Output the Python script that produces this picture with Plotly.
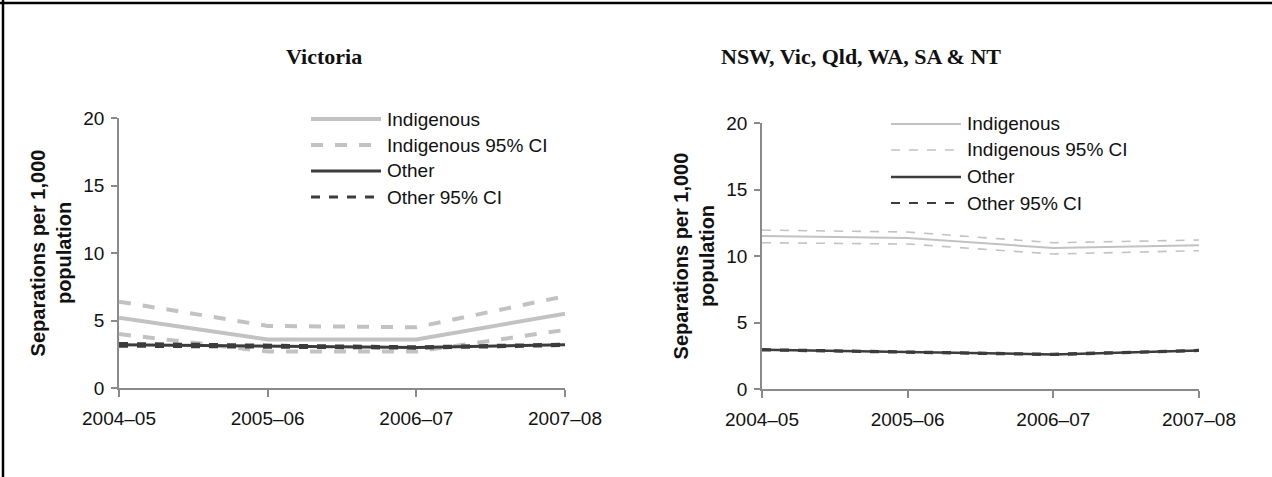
import plotly.graph_objects as go

W, H = 1272, 477

years = ["2004–05", "2005–06", "2006–07", "2007–08"]
xpos = [0, 1, 2, 3]

# Victoria
vic_indig = [5.2, 3.6, 3.6, 5.5]
vic_indig_hi = [6.4, 4.6, 4.5, 6.8]
vic_indig_lo = [4.0, 2.7, 2.7, 4.3]
vic_other = [3.2, 3.1, 3.0, 3.2]
vic_other_hi = [3.3, 3.15, 3.05, 3.25]
vic_other_lo = [3.1, 3.05, 2.95, 3.15]

# NSW, Vic, Qld, WA, SA & NT
all_indig = [11.5, 11.35, 10.6, 10.8]
all_indig_hi = [11.95, 11.8, 11.0, 11.2]
all_indig_lo = [11.0, 10.9, 10.15, 10.4]
all_other = [2.95, 2.8, 2.6, 2.9]
all_other_hi = [3.0, 2.85, 2.65, 2.95]
all_other_lo = [2.9, 2.75, 2.55, 2.85]

legend_names = ["Indigenous", "Indigenous 95% CI", "Other", "Other 95% CI"]

LIGHT = "#c2c2c2"
DARK = "#3c3c3c"
AXIS = "#8a8a8a"
SANS = "Liberation Sans, Arial"

# px -> paper helpers (margins are zero so paper == page)
def px(x):
    return x / W

def py(y):
    return 1 - y / H

fig = go.Figure()

def add_panel(fig, xa, ya, ind, hi, lo, oth, ohi, olo, wide):
    iw = 4 if wide else 2
    dw = 4 if wide else 1.6
    ow = 3 if wide else 2.5
    odw = 3 if wide else 2
    for vals, col, w, dash in [(hi, LIGHT, dw, "dash"), (lo, LIGHT, dw, "dash"),
                               (ind, LIGHT, iw, "solid"),
                               (ohi, DARK, odw, "dash"), (olo, DARK, odw, "dash"),
                               (oth, DARK, ow, "solid")]:
        fig.add_trace(go.Scatter(x=xpos, y=vals, mode="lines", xaxis=xa, yaxis=ya,
                                 line=dict(color=col, width=w, dash=dash),
                                 showlegend=False, hoverinfo="skip"))

add_panel(fig, "x", "y", vic_indig, vic_indig_hi, vic_indig_lo,
          vic_other, vic_other_hi, vic_other_lo, True)
add_panel(fig, "x2", "y2", all_indig, all_indig_hi, all_indig_lo,
          all_other, all_other_hi, all_other_lo, False)

xcommon = dict(range=[0, 3], tickmode="array", tickvals=xpos, ticktext=years,
               showline=True, linecolor=AXIS, linewidth=1.5, ticks="outside",
               ticklen=7, tickcolor=AXIS, tickwidth=1.5, showgrid=False, zeroline=False,
               automargin=False, ticklabelstandoff=5,
               tickfont=dict(family=SANS, size=19, color="#111"))
ycommon = dict(range=[0, 20], tickvals=[0, 5, 10, 15, 20],
               showline=True, linecolor=AXIS, linewidth=1.5, ticks="outside",
               ticklen=6, tickcolor=AXIS, tickwidth=1.5, showgrid=False, zeroline=False,
               automargin=False, ticklabelstandoff=3,
               tickfont=dict(family=SANS, size=19, color="#111"),
               title=dict(text="<b>Separations per 1,000<br>population</b>", standoff=6,
                          font=dict(family=SANS, size=20, color="#111")))

fig.update_layout(
    width=W, height=H, margin=dict(l=0, r=0, t=0, b=0, autoexpand=False),
    paper_bgcolor="white", plot_bgcolor="white", showlegend=False,
    xaxis=dict(domain=[px(119), px(565)], anchor="y", **xcommon),
    yaxis=dict(domain=[py(388), py(118)], anchor="x", **ycommon),
    xaxis2=dict(domain=[px(762), px(1199)], anchor="y2", **xcommon),
    yaxis2=dict(domain=[py(389), py(123)], anchor="x2", **ycommon),
)

# panel titles
for text, cx in [("<b>Victoria</b>", 324), ("<b>NSW, Vic, Qld, WA, SA &amp; NT</b>", 861)]:
    fig.add_annotation(x=px(cx), y=py(57), xref="paper", yref="paper", text=text,
                       showarrow=False, xanchor="center", yanchor="middle",
                       font=dict(family="Liberation Serif, DejaVu Serif", size=22, color="#111"))

# legends drawn as keys + labels
shapes = []
def legend(x0, x1, tx, rows, wide):
    styles = [(LIGHT, 4 if wide else 2, "solid"), (LIGHT, 4 if wide else 1.6, "dash"),
              (DARK, 3 if wide else 2.5, "solid"), (DARK, 3 if wide else 2, "dash")]
    for name, yy, (col, w, dash) in zip(legend_names, rows, styles):
        shapes.append(dict(type="line", xref="paper", yref="paper",
                           x0=px(x0), x1=px(x1), y0=py(yy), y1=py(yy),
                           line=dict(color=col, width=w, dash=dash)))
        fig.add_annotation(x=px(tx), y=py(yy), xref="paper", yref="paper", text=name,
                           showarrow=False, xanchor="left", yanchor="middle",
                           font=dict(family=SANS, size=19, color="#111"))

legend(311, 381, 385, [119, 145, 171, 197], True)
legend(891, 961, 965, [124, 150, 177, 203], False)

# frame lines at top and left
shapes.append(dict(type="line", xref="paper", yref="paper", x0=0, x1=1,
                   y0=py(3), y1=py(3), line=dict(color="black", width=2.5)))
shapes.append(dict(type="line", xref="paper", yref="paper", x0=px(3), x1=px(3),
                   y0=0, y1=1, line=dict(color="black", width=2.5)))
fig.update_layout(shapes=shapes)

fig.write_html("out.html", config={"displayModeBar": False},
               post_script="document.body.style.margin='0';document.body.style.overflow='hidden';")
